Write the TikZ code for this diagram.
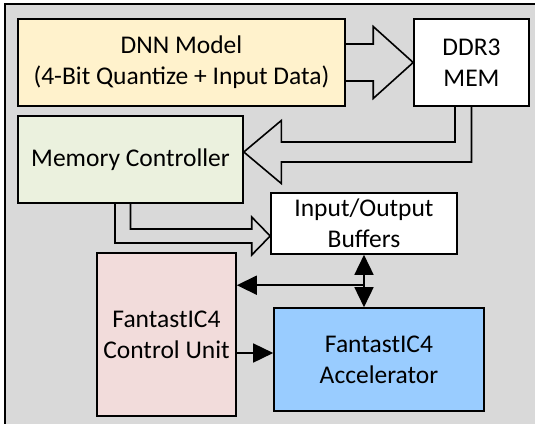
\documentclass[tikz,border=0pt]{standalone}
\usepackage{fontspec}
\setmainfont{Carlito}
\usetikzlibrary{arrows.meta,calc}
\definecolor{bggray}{HTML}{D9D9D9}
\definecolor{dnnfill}{HTML}{FFF2CC}
\definecolor{mcfill}{HTML}{EBF1DE}
\definecolor{cufill}{HTML}{F2DCDB}
\definecolor{accfill}{HTML}{99CCFF}
\begin{document}
\begin{tikzpicture}[x=1pt,y=-1pt,
  box/.style={draw=black, line width=1.6pt, align=center, inner sep=0pt,
    font=\fontsize{25.5}{31}\selectfont},
  blockarrow/.style={draw=black, line width=1.6pt, line join=miter},
  tiparrow/.style={draw=black, line width=1.6pt, -{Triangle[length=20pt,width=19pt]}},
  bothtips/.style={draw=black, line width=1.6pt, {Triangle[length=20pt,width=19pt]}-{Triangle[length=20pt,width=19pt]}},
]
\useasboundingbox (0,0) rectangle (535,423);
\begin{scope}
\clip (0,0) rectangle (535,423);
\draw[fill=bggray, line width=1.6pt] (5,4) rectangle (545,435);
\end{scope}

\node[box, fill=dnnfill, minimum width=327, minimum height=87] (dnn) at (181.5,62.5)
  {DNN Model\\(4-Bit Quantize + Input Data)};
\node[box, fill=white, minimum width=115, minimum height=87] (ddr) at (471.5,62.5)
  {DDR3\\MEM};
\node[box, fill=mcfill, minimum width=225, minimum height=87] (mc) at (130.5,159.5)
  {Memory Controller};
\node[box, fill=white, minimum width=186, minimum height=61] (io) at (364,223.5)
  {Input/Output\\Buffers};
\node[box, fill=cufill, minimum width=139, minimum height=163] (cu) at (166.5,334.5)
  {FantastIC4\\Control Unit};
\node[box, fill=accfill, minimum width=210, minimum height=103] (acc) at (379,359.5)
  {FantastIC4\\Accelerator};

% DNN -> DDR3 block arrow
\draw[blockarrow] ($(dnn.east)+(0,-18.5)$) -- ($(ddr.west)+(-40,-18.5)$)
  -- ($(ddr.west)+(-40,-36)$) -- (ddr.west) -- ($(ddr.west)+(-40,36)$)
  -- ($(ddr.west)+(-40,18.5)$) -- ($(dnn.east)+(0,18.5)$);

% DDR3 -> Memory Controller block arrow
\coordinate (mctip) at ($(mc.east)+(0,-7.5)$);
\draw[blockarrow] ($(ddr.south)+(-16.5,0)$) |- ($(mctip)+(37.5,-10)$)
  -- ($(mctip)+(37.5,-31.5)$) -- (mctip) -- ($(mctip)+(37.5,31.5)$)
  -- ($(mctip)+(37.5,10)$) -| (ddr.south);

% Memory Controller -> IO buffers block arrow
\coordinate (iotip) at ($(io.west)+(0,12.5)$);
\draw[blockarrow] (mc.south) |- ($(iotip)+(-18.5,-7)$)
  -- ($(iotip)+(-18.5,-19)$) -- (iotip) -- ($(iotip)+(-18.5,19)$)
  -- ($(iotip)+(-18.5,7)$) -| ($(mc.south)+(-15.5,0)$);

% thin arrows
\draw[bothtips] (io.south) -- (io.south |- acc.north);
\coordinate (junc) at ($(io.south)!0.58!(io.south |- acc.north)$);
\draw[tiparrow] (junc) -- (junc -| cu.east);
\coordinate (cuout) at ($(cu.east)+(0,18.5)$);
\draw[tiparrow] (cuout) -- (cuout -| acc.west);
\end{tikzpicture}
\end{document}
